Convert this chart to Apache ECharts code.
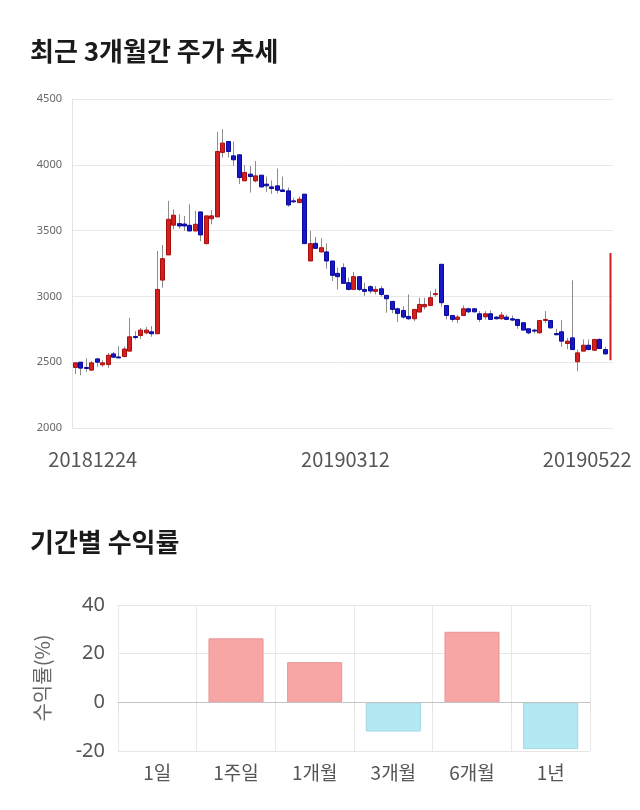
<!DOCTYPE html>
<html>
<head>
<meta charset="utf-8">
<script src="https://cdn.jsdelivr.net/npm/echarts@6/dist/echarts.min.js"></script>
<style>
html,body{margin:0;padding:0;background:#fff;}
#c{width:640px;height:810px;}
</style>
</head>
<body>
<div id="c"></div>
<script>
// ---- data ----
const dates = [
 '20181224','20181226','20181227','20181228',
 '20190102','20190103','20190104','20190107','20190108','20190109','20190110','20190111','20190114','20190115','20190116','20190117','20190118','20190121','20190122','20190123','20190124','20190125','20190128','20190129','20190130','20190131',
 '20190201','20190207','20190208','20190211','20190212','20190213','20190214','20190215','20190218','20190219','20190220','20190221','20190222','20190225','20190226','20190227','20190228',
 '20190304','20190305','20190306','20190307','20190308','20190311','20190312','20190313','20190314','20190315','20190318','20190319','20190320','20190321','20190322','20190325','20190326','20190327','20190328','20190329',
 '20190401','20190402','20190403','20190404','20190405','20190408','20190409','20190410','20190411','20190412','20190415','20190416','20190417','20190418','20190419','20190422','20190423','20190424','20190425','20190426','20190429','20190430',
 '20190502','20190503','20190507','20190508','20190509','20190510','20190513','20190514','20190515','20190516','20190517','20190520','20190521','20190522'
];
const openP  = [2460,2500,2460,2440,2525,2480,2482,2563,2540,2543,2584,2695,2703,2723,2731,2716,3124,3315,3541,3553,3550,3540,3497,3642,3401,3590,3604,4094,4177,4068,4076,3878,3929,3878,3921,3853,3832,3840,3809,3802,3726,3713,3777,3269,3403,3338,3338,3269,3175,3218,3104,3053,3150,3053,3074,3038,3058,3008,2962,2906,2893,2848,2830,2881,2921,2931,3019,3244,2931,2855,2825,2855,2906,2906,2868,2845,2868,2843,2830,2843,2830,2825,2800,2754,2744,2723,2817,2817,2718,2731,2642,2685,2503,2584,2629,2591,2673,2596,2515];
const closeP = [2495,2455,2455,2495,2500,2495,2553,2538,2538,2600,2693,2693,2744,2744,2716,3053,3287,3586,3617,3535,3535,3497,3548,3467,3612,3612,4101,4165,4101,4038,3903,3942,3911,3916,3832,3840,3820,3807,3797,3695,3724,3739,3401,3401,3365,3370,3269,3160,3150,3099,3053,3150,3053,3038,3041,3053,3015,2982,2901,2871,2843,2830,2901,2939,2939,2990,3021,2952,2855,2825,2843,2906,2883,2883,2825,2868,2825,2830,2858,2825,2820,2779,2744,2723,2743,2817,2825,2761,2708,2660,2660,2596,2571,2629,2596,2673,2604,2563,3330];
const lowP   = [2410,2400,2425,2435,2465,2465,2457,2533,2538,2538,2584,2673,2678,2711,2693,2716,3066,3315,3510,3515,3497,3497,3497,3420,3395,3548,3604,4056,4056,3992,3853,3878,3789,3866,3827,3794,3779,3784,3794,3682,3712,3708,3401,3269,3365,3333,3211,3117,3053,3099,3046,3053,3041,3003,3023,3015,2997,2876,2871,2805,2830,2820,2812,2881,2901,2926,2997,2921,2825,2805,2797,2850,2871,2876,2805,2825,2825,2825,2825,2820,2812,2754,2744,2711,2718,2718,2797,2754,2708,2617,2599,2596,2431,2584,2591,2586,2599,2558,2515];
const highP  = [2500,2500,2530,2510,2533,2515,2570,2578,2622,2620,2837,2736,2761,2769,2774,3345,3391,3726,3662,3624,3612,3700,3650,3642,3612,3657,4251,4271,4177,4177,4076,3997,3992,4029,3921,3911,3881,3972,3911,3827,3750,3759,3777,3497,3452,3442,3403,3269,3218,3251,3142,3185,3150,3104,3084,3079,3079,3008,2962,2914,2926,3015,2901,2990,2990,3041,3058,3244,2931,2855,2860,2931,2914,2911,2888,2888,2893,2850,2881,2860,2855,2830,2800,2754,2754,2817,2888,2817,2754,2820,2685,3122,2596,2673,2673,2673,2680,2617,3330];
const priceTicks = [2000, 2500, 3000, 3500, 4000, 4500];

const periods = ['1일','1주일','1개월','3개월','6개월','1년'];
const returns = [0, 26.3, 16.5, -12.0, 29.0, -19.2];

// ---- chart ----
const chart = echarts.init(document.getElementById('c'), null, {renderer:'canvas'});
const labelIdx = [0, Math.floor((dates.length-1)/2), dates.length-1];
const CJK = '"Noto Sans CJK KR", "Noto Sans", sans-serif';

function renderCandle(params, api) {
  const i = api.value(0), o = api.value(1), c = api.value(2), l = api.value(3), h = api.value(4);
  const pO = api.coord([i, o]), pC = api.coord([i, c]), pL = api.coord([i, l]), pH = api.coord([i, h]);
  const last = params.dataIndex === params.dataInsideLength - 1;
  let w = last ? 2 : Math.round(api.size([1, 0])[0] * 0.72);
  const x = Math.round(pO[0]) + 0.5;
  const up = c >= o;
  const fill = up ? '#d41f1f' : '#1717c8';
  const stroke = up ? '#a81010' : '#0a0a9a';
  const top = Math.min(pO[1], pC[1]);
  const hgt = Math.max(1, Math.abs(pO[1] - pC[1]));
  const children = [];
  if (!last) children.push({type:'line', shape:{x1:x, y1:pH[1], x2:x, y2:pL[1]}, style:{stroke:'#8c8c8c', lineWidth:1}});
  children.push({type:'rect', shape:{x: last ? x - 1 : x - w/2, y: top, width: w, height: hgt},
    style:{fill: fill, stroke: last ? fill : stroke, lineWidth: last ? 0 : 1}});
  return {type:'group', children: children};
}

const option = {
  animation: false,
  backgroundColor: '#fff',
  title: [
    {text:'최근 3개월간 주가 추세', left: 25, top: 33, textStyle:{fontFamily: CJK, fontSize: 26, fontWeight:'bold', color:'#1a1a1a'}},
    {text:'기간별 수익률', left: 25, top: 524, textStyle:{fontFamily: CJK, fontSize: 26, fontWeight:'bold', color:'#1a1a1a'}}
  ],
  grid: [
    {left: 72, right: 27, top: 99, height: 329},
    {left: 118, right: 50, top: 605, height: 146}
  ],
  xAxis: [
    {
      type:'category', gridIndex:0, data: dates, boundaryGap: true,
      axisLine:{show:false}, axisTick:{show:false}, splitLine:{show:false},
      axisLabel:{
        interval: (i) => labelIdx.indexOf(i) >= 0,
        margin: 21, color:'#555', fontFamily: CJK, fontSize: 20,
        formatter: (v, i) => i === 0 ? '{f|' + v + '}' : (i === dates.length-1 ? '{l|' + v + '}' : '{m|' + v + '}'),
        rich: {
          f: {padding:[0,0,0,36], fontFamily: CJK, fontSize: 20, color:'#555'},
          m: {padding:[0,0,0,6], fontFamily: CJK, fontSize: 20, color:'#555'},
          l: {padding:[0,46,0,0], fontFamily: CJK, fontSize: 20, color:'#555'}
        }
      }
    },
    {
      type:'category', gridIndex:1, data: periods, boundaryGap: true,
      axisLine:{show:true, lineStyle:{color:'#cfcfcf'}},
      axisTick:{show:true, length: 8, lineStyle:{color:'#e0e0e0'}},
      splitLine:{show:true, lineStyle:{color:'#e8e8e8'}},
      axisLabel:{color:'#555', fontFamily: CJK, fontSize: 19, margin: 12}
    }
  ],
  yAxis: [
    {
      type:'value', gridIndex:0, min: priceTicks[0], max: priceTicks[priceTicks.length-1], interval: 500,
      axisLine:{show:true, lineStyle:{color:'#e4e4e4'}}, axisTick:{show:false},
      splitLine:{show:true, lineStyle:{color:'#e8e8e8'}},
      axisLabel:{color:'#666', fontSize: 11, margin: 10, fontFamily:'"Noto Sans", sans-serif', formatter: (v) => String(v)}
    },
    {
      type:'value', gridIndex:1, min:-20, max:40, interval:20,
      name:'수익률(%)', nameLocation:'middle', nameGap: 66, nameRotate: 90,
      nameTextStyle:{color:'#666', fontFamily: CJK, fontSize: 20},
      axisLine:{show:false}, axisTick:{show:false},
      splitLine:{show:true, lineStyle:{color:'#e6e6e6'}},
      axisLabel:{color:'#555', fontSize: 20, margin: 13, fontFamily:'"Noto Sans", sans-serif'}
    }
  ],
  series: [
    {
      type:'custom', xAxisIndex:0, yAxisIndex:0,
      renderItem: renderCandle,
      encode:{x:0, y:[1,2,3,4]},
      data: dates.map((d, i) => [i, openP[i], closeP[i], lowP[i], highP[i]]),
      clip: true
    },
    {
      type:'bar', xAxisIndex:1, yAxisIndex:1, barWidth: '70%',
      data: returns.map(v => ({value: v, itemStyle: v > 0
        ? {color:'#f8a5a5', borderColor:'#e89595', borderWidth:1}
        : (v < 0 ? {color:'#b3e9f3', borderColor:'#9fd8e2', borderWidth:1} : {opacity: 0, borderWidth: 0})})),
      markLine: {
        silent: true, symbol: 'none', label:{show:false},
        lineStyle:{color:'#c4c4c4', type:'solid', width:1},
        data:[{yAxis: 0}]
      }
    }
  ]
};
chart.setOption(option);
</script>
</body>
</html>
